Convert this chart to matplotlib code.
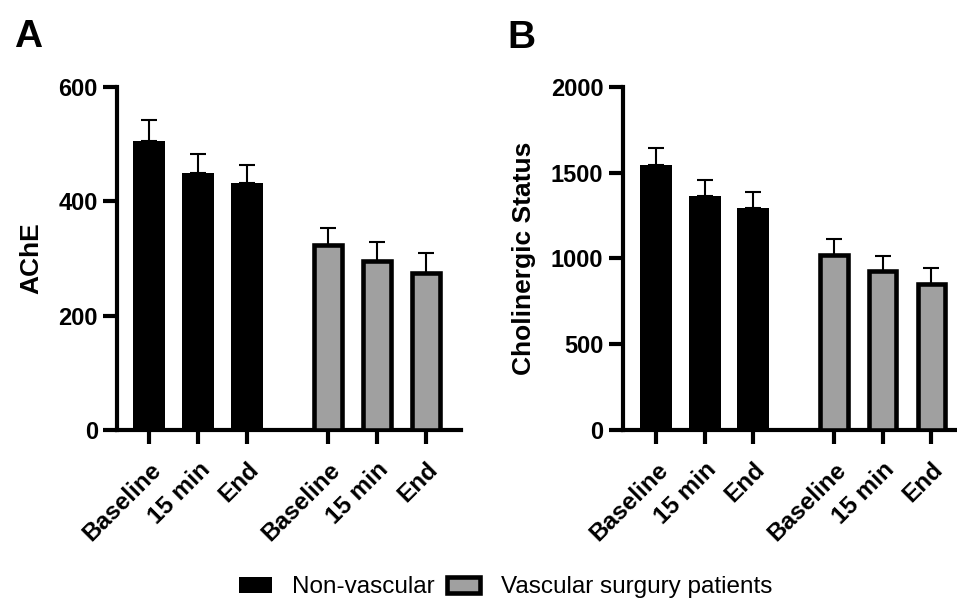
import numpy as np
import matplotlib
matplotlib.use("Agg")
import matplotlib.pyplot as plt

plt.rcParams['font.family'] = ['Liberation Sans', 'DejaVu Sans']

timepoints = ['Baseline', '15 min', 'End']
groups = ['Non-vascular', 'Vascular surgury patients']

# panel A - AChE
ache_nonvasc = [506, 449, 431]
ache_nonvasc_err = [36, 33, 33]
ache_vasc = [324, 296, 274]
ache_vasc_err = [29, 32, 35]

# panel B - cholinergic status
chol_nonvasc = [1547, 1366, 1296]
chol_nonvasc_err = [97, 93, 91]
chol_vasc = [1019, 928, 852]
chol_vasc_err = [94, 89, 91]

gray = '#a0a0a0'
spine_lw = 3.0

x1 = np.arange(3)
x2 = np.arange(3) + 3.667


def draw_panel(ax, nonvasc, nonvasc_err, vasc, vasc_err, ymax, yticks, ylabel, xleft, label_x):
    ax.errorbar(x1, nonvasc, yerr=[np.zeros(3), nonvasc_err], fmt='none', ecolor='black',
                elinewidth=1.5, capsize=5.8, capthick=1.5, zorder=2)
    ax.errorbar(x2, vasc, yerr=[np.zeros(3), vasc_err], fmt='none', ecolor='black',
                elinewidth=1.5, capsize=5.8, capthick=1.5, zorder=2)
    b1 = ax.bar(x1, nonvasc, width=0.657, color='black', edgecolor='black', linewidth=0, zorder=3,
                label=groups[0])
    b2 = ax.bar(x2, vasc, width=0.565, color=gray, edgecolor='black', linewidth=3.3, zorder=3,
                label=groups[1])
    ax.set_xlim(xleft, 6.39)
    ax.set_ylim(0, ymax)
    ax.set_yticks(yticks)
    ax.set_xticks(np.concatenate([x1, x2]))
    ax.set_xticklabels(timepoints * 2, rotation=45, ha='right', rotation_mode='anchor',
                       fontsize=17.5, fontweight='bold')
    for t in ax.get_yticklabels():
        t.set_fontsize(17)
        t.set_fontweight('bold')
    ax.tick_params(axis='both', length=10, width=spine_lw, pad=4, color='black')
    ax.tick_params(axis='x', pad=10)
    for s in ['top', 'right']:
        ax.spines[s].set_visible(False)
    for s in ['left', 'bottom']:
        ax.spines[s].set_linewidth(spine_lw)
    ax.set_ylabel(ylabel, fontsize=19, fontweight='bold')
    ax.yaxis.set_label_coords(label_x, 0.5)
    return b1, b2


fig = plt.figure(figsize=(9.57, 6.0), dpi=100)
axA = fig.add_axes([0.1226, 0.283, 0.3591, 0.5725])
axB = fig.add_axes([0.6507, 0.283, 0.3591, 0.5725])

b1, b2 = draw_panel(axA, ache_nonvasc, ache_nonvasc_err, ache_vasc, ache_vasc_err,
                    600, [0, 200, 400, 600], 'AChE', -0.657, -0.216)
draw_panel(axB, chol_nonvasc, chol_nonvasc_err, chol_vasc, chol_vasc_err,
           2000, [0, 500, 1000, 1500, 2000], 'Cholinergic Status', -0.69, -0.252)

fig.text(14 / 957, 1 - 47 / 600, 'A', fontsize=28, fontweight='bold', ha='left', va='baseline')
fig.text(507 / 957, 1 - 48 / 600, 'B', fontsize=28, fontweight='bold', ha='left', va='baseline')

fig.legend(handles=[b1, b2], labels=groups, loc='center', bbox_to_anchor=(0.528, 0.021),
           ncol=2, frameon=False, fontsize=17.5, handlelength=1.36, handleheight=0.6,
           handletextpad=0.85, columnspacing=0.5)

fig.savefig('out.png', dpi=100)
